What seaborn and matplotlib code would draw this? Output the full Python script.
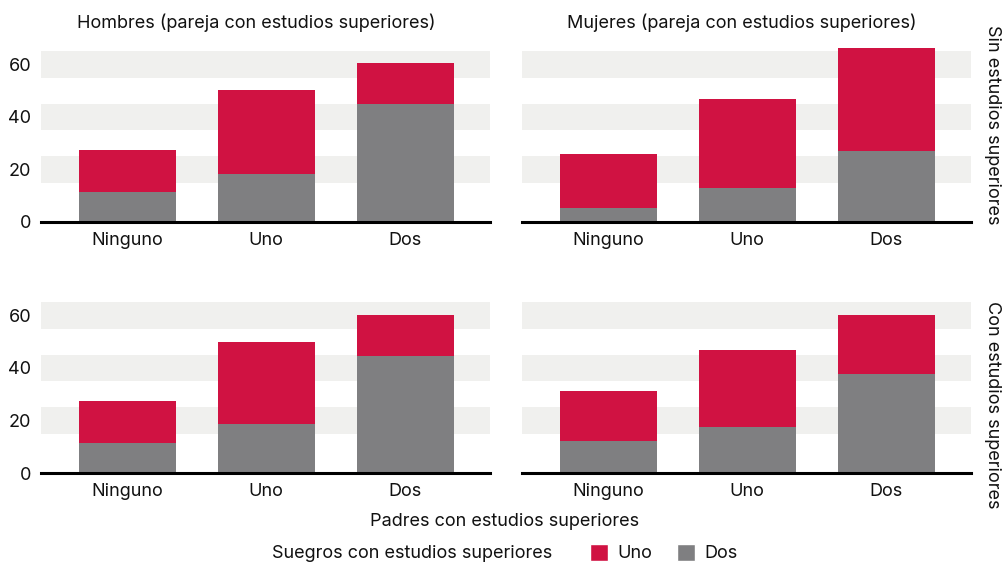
import matplotlib
matplotlib.use("Agg")
import matplotlib.pyplot as plt
from matplotlib.patches import Patch
import seaborn as sns
import pandas as pd

# ---- data ----
padres = ["Ninguno", "Uno", "Dos"]
panels = ["Hombres (pareja con estudios superiores)", "Mujeres (pareja con estudios superiores)"]
rows = ["Sin estudios superiores", "Con estudios superiores"]

# suegros "Dos" (grey, bottom) and total height (top of red "Uno" segment)
hombres_sin_dos = [11.6, 18.4, 44.9]
hombres_sin_total = [27.5, 50.2, 60.4]
mujeres_sin_dos = [5.2, 13.1, 27.1]
mujeres_sin_total = [26.0, 46.8, 66.1]
hombres_con_dos = [11.4, 18.6, 44.7]
hombres_con_total = [27.3, 49.9, 60.1]
mujeres_con_dos = [12.2, 17.5, 37.5]
mujeres_con_total = [31.1, 46.9, 60.1]

yticks = [0, 20, 40, 60]

RED = "#D01242"
GREY = "#7F7F81"
BAND = "#F0F0EE"
TXT = "#111111"
FS = 13

sns.set_theme(style="white")
plt.rcParams["font.family"] = ["Inter", "DejaVu Sans"]

data = {
    (0, 0): (hombres_sin_dos, hombres_sin_total),
    (0, 1): (mujeres_sin_dos, mujeres_sin_total),
    (1, 0): (hombres_con_dos, hombres_con_total),
    (1, 1): (mujeres_con_dos, mujeres_con_total),
}

W, H = 1008, 562
fig = plt.figure(figsize=(W / 100, H / 100), dpi=100)

lefts = [41, 522]
zero_y = [222, 473]
ax_w = 449
ax_h = 176

for (r, c), (dos, total) in data.items():
    x0 = lefts[c]
    y0 = zero_y[r]
    ax = fig.add_axes([x0 / W, 1 - y0 / H, ax_w / W, ax_h / H])
    df = pd.DataFrame({"padres": padres, "total": total, "dos": dos})
    for t in yticks[1:]:
        ax.axhspan(t - 5, t + 5, color=BAND, lw=0, zorder=0)
    sns.barplot(data=df, x="padres", y="total", color=RED, width=0.7,
                saturation=1, linewidth=0, ax=ax, zorder=2)
    sns.barplot(data=df, x="padres", y="dos", color=GREY, width=0.7,
                saturation=1, linewidth=0, ax=ax, zorder=3)
    ax.set_xlim(-0.62, 2.61)
    ax.set_ylim(0, 67)
    ax.set_xlabel("")
    ax.set_ylabel("")
    for s in ["top", "right", "left"]:
        ax.spines[s].set_visible(False)
    ax.spines["bottom"].set_color("black")
    ax.spines["bottom"].set_linewidth(2.2)
    ax.spines["bottom"].set_zorder(5)
    ax.tick_params(axis="both", length=0, labelsize=FS, colors=TXT)
    ax.tick_params(axis="x", pad=7)
    ax.set_yticks(yticks)
    if c == 0:
        ax.set_yticklabels([str(t) for t in yticks])
        ax.tick_params(axis="y", pad=7)
    else:
        ax.set_yticklabels([])

# panel titles
fig.text(256 / W, 1 - 23 / H, panels[0], ha="center", va="center", fontsize=FS, color=TXT)
fig.text(742 / W, 1 - 23 / H, panels[1], ha="center", va="center", fontsize=FS, color=TXT)

# row strips
fig.text(992 / W, 1 - 125 / H, rows[0], ha="center", va="center", rotation=-90, fontsize=FS, color=TXT)
fig.text(992 / W, 1 - 405 / H, rows[1], ha="center", va="center", rotation=-90, fontsize=FS, color=TXT)

# x label
fig.text(505 / W, 1 - 522 / H, "Padres con estudios superiores", ha="center", va="center", fontsize=FS, color=TXT)

# legend
fig.text(552 / W, 1 - 553 / H, "Suegros con estudios superiores", ha="right", va="center", fontsize=FS, color=TXT)
handles = [Patch(facecolor=RED, label="Uno"), Patch(facecolor=GREY, label="Dos")]
leg = fig.legend(handles=handles, ncol=2, loc="center left",
                 bbox_to_anchor=(590 / W, 1 - 553 / H), frameon=False,
                 fontsize=FS, handlelength=1.0, handleheight=1.1,
                 handletextpad=0.5, columnspacing=1.4, borderaxespad=0, borderpad=0)
for t in leg.get_texts():
    t.set_color(TXT)

fig.savefig("out.png", dpi=100)
